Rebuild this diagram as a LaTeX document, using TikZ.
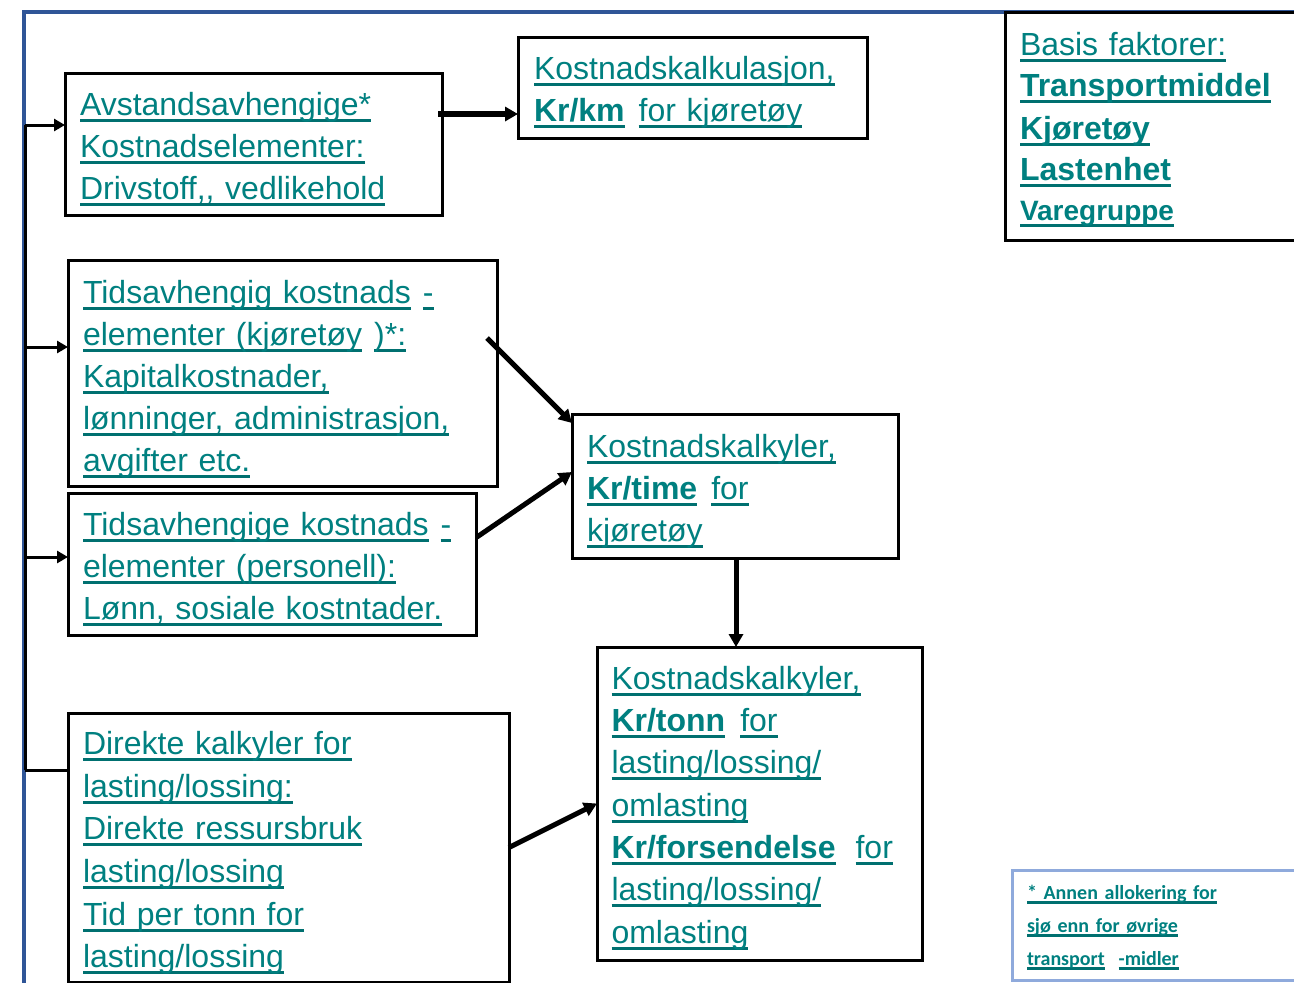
\documentclass[tikz,border=0pt]{standalone}
\usepackage{fontspec}
\setmainfont{Liberation Sans}
\newfontfamily\notefont{Carlito}
\usetikzlibrary{arrows.meta,calc}
\definecolor{txt}{RGB}{0,128,128}
\definecolor{ulc}{RGB}{0,112,112}
\definecolor{frameblue}{RGB}{47,85,151}
\definecolor{noteblue}{RGB}{143,170,220}
\newsavebox\myulbox
\newcommand\myul[1]{\leavevmode\sbox\myulbox{#1}\rlap{\color{ulc}\rule[-6.5pt]{\wd\myulbox}{3pt}}\usebox\myulbox}
\newcommand\myuls[1]{\leavevmode\sbox\myulbox{#1}\rlap{\color{ulc}\rule[-4.5pt]{\wd\myulbox}{2.6pt}}\usebox\myulbox}
\newcommand\topstrut[1]{\leavevmode\rule{0pt}{#1}}
\tikzset{
  box/.style={draw=black, line width=3pt, anchor=north west, outer sep=0pt,
    inner xsep=15pt, inner ysep=0pt, align=left, text=txt,
    font=\fontsize{32}{42}\selectfont},
  arr/.style={line width=5pt, -{Triangle[length=13pt,width=14pt]}},
  brarr/.style={line width=3pt, -{Triangle[length=11pt,width=12pt]}},
  brline/.style={line width=3pt},
}
\begin{document}
\begin{tikzpicture}[x=1pt,y=-1pt]
\useasboundingbox (0,0) rectangle (1294,983);
\clip (0,0) rectangle (1294,983);
\fill[white] (0,0) rectangle (1294,983);
% outer frame
\draw[frameblue, line width=4pt] (1320,12) -- (24,12) -- (24,1000);

% boxes
\node[box, minimum width=377pt, minimum height=142pt, text width=347pt] (A) at (65,73)
  {\topstrut{34pt}\myul{Avstandsavhengige*}\\ \myul{Kostnadselementer:}\\ \myul{Drivstoff,}\myul{, vedlikehold}};
\node[box, minimum width=349pt, minimum height=101pt, text width=317pt, inner xsep=16pt] (B) at (518,37)
  {\topstrut{32pt}\myul{Kostnadskalkulasjon,}\\ \myul{\textbf{Kr/km}}\hspace{14pt}\myul{for kjøretøy}};
\node[box, minimum width=429pt, minimum height=226pt, text width=399pt] (C) at (68,260)
  {\topstrut{35pt}\myul{Tidsavhengig kostnads}\hspace{12pt}\myul{-}\\ \myul{elementer (kjøretøy}\hspace{12pt}\myul{)*:}\\ \myul{Kapitalkostnader,}\\ \myul{lønninger, administrasjon,}\\ \myul{avgifter etc.}};
\node[box, minimum width=408pt, minimum height=142pt, text width=378pt] (D) at (68,493)
  {\topstrut{34pt}\myul{Tidsavhengige kostnads}\hspace{12pt}\myul{-}\\ \myul{elementer (personell):}\\ \myul{Lønn, sosiale kostntader.}};
\node[box, minimum width=326pt, minimum height=144pt, text width=296pt] (E) at (572,414)
  {\topstrut{34pt}\myul{Kostnadskalkyler,}\\ \myul{\textbf{Kr/time}}\hspace{14pt}\myul{for}\\ \myul{kjøretøy}};
\node[box, minimum width=441pt, minimum height=269pt, text width=411pt] (F) at (68,713)
  {\topstrut{34pt}\myul{Direkte kalkyler for}\\[0.6pt] \myul{lasting/lossing:}\\[0.6pt] \myul{Direkte ressursbruk}\\[0.6pt] \myul{lasting/lossing}\\[0.6pt] \myul{Tid per tonn for}\\[0.6pt] \myul{lasting/lossing}};
\node[box, minimum width=325pt, minimum height=313pt, text width=296pt, inner xsep=14.5pt] (G) at (597,647)
  {\topstrut{32pt}\myul{Kostnadskalkyler,}\\[0.3pt] \myul{\textbf{Kr/tonn}}\hspace{15pt}\myul{for}\\[0.3pt] \myul{lasting/lossing/}\\[0.3pt] \myul{omlasting}\\[0.3pt] \myul{\textbf{Kr/forsendelse}}\hspace{20pt}\myul{for}\\[0.3pt] \myul{lasting/lossing/}\\[0.3pt] \myul{omlasting}};
\node[box, minimum width=330pt, minimum height=228pt, text width=300pt] (H) at (1005,12)
  {\topstrut{30pt}\myul{Basis faktorer:}\\[-1pt] \myul{\textbf{Transportmiddel}}\\[1pt] \myul{\textbf{Kjøretøy}}\\[-1pt] \myul{\textbf{Lastenhet}}\\[-2pt] {\fontsize{28}{40}\selectfont\myul{\textbf{Varegruppe}}}};
\node[box, draw=noteblue, minimum width=320pt, minimum height=110pt, text width=290pt,
  font=\notefont\bfseries\fontsize{20}{33}\selectfont] (N) at (1012,870)
  {\topstrut{19pt}\myuls{* Annen allokering for}\\ \myuls{sjø enn for øvrige}\\ \myuls{transport}\hspace{14pt}\myuls{-midler}};

% trunk
\coordinate (t1) at (25,125);
\coordinate (t2) at (25,347);
\coordinate (t3) at (25,557);
\coordinate (t4) at (25,770);
\draw[brline] (t1) -- (t4);
\draw[brarr] (t1) -- (t1 -| A.west);
\draw[brarr] (t2) -- (t2 -| C.west);
\draw[brarr] (t3) -- (t3 -| D.west);
\draw[brline] (t4) -- (t4 -| F.west);

% connectors
\draw[arr, line width=6pt] ([xshift=-4pt,yshift=30pt]A.east) -- ([yshift=30pt]A.east -| B.west);
\draw[arr] ([xshift=-10pt,yshift=35pt]C.east) -- ([yshift=-9pt]E.north west);
\draw[arr] ([xshift=1pt,yshift=27pt]D.east) -- ([yshift=14pt]E.west);
\draw[arr] ([xshift=1pt]E.south) -- ([xshift=1pt]E.south |- G.north);
\draw[arr] (F.east) -- (G.west);
\end{tikzpicture}
\end{document}
